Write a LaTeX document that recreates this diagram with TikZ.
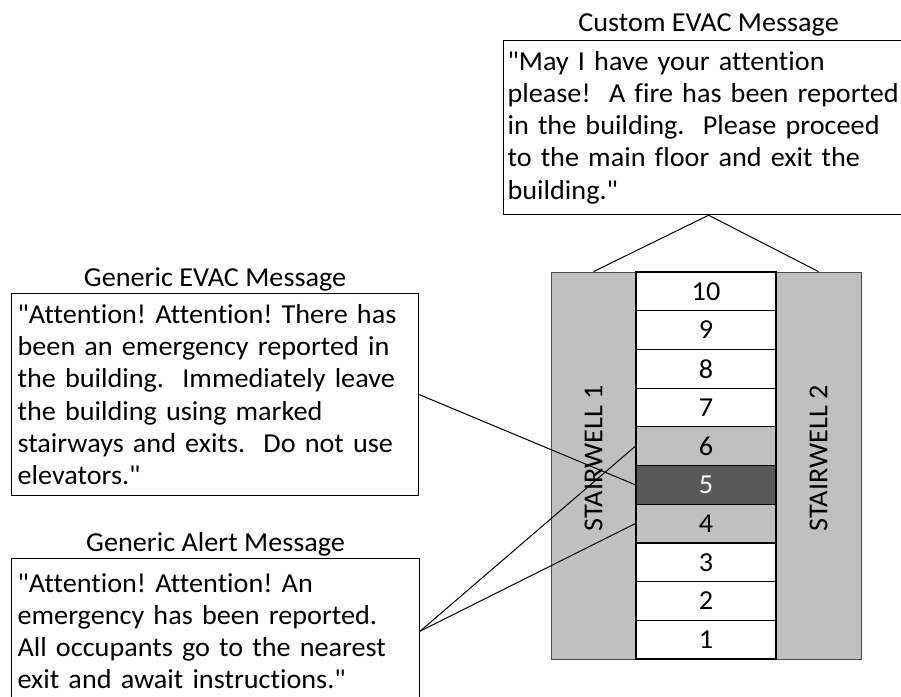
\documentclass[tikz,border=0pt]{standalone}
\usepackage{fontspec}
\setmainfont{Carlito}[FakeStretch=1.03, Ligatures={TeXOff,NoCommon}]
\usetikzlibrary{positioning}
\definecolor{wellgray}{HTML}{C0C0C0}
\definecolor{firegray}{HTML}{595959}
\tikzset{
  msgbox/.style={draw, line width=1.2pt, align=left, inner ysep=0pt, anchor=north west},
  msgtitle/.style={inner sep=0pt},
  well/.style={draw=black!70, fill=wellgray, line width=0.8pt, minimum width=85pt, minimum height=387pt},
  floor/.style={draw, line width=1.2pt, minimum width=140pt, minimum height=38.7pt, inner sep=0pt},
  link/.style={line width=1pt},
}
\begin{document}
\begin{tikzpicture}[x=1pt, y=-1pt, font=\fontsize{27.4}{32.2}\selectfont\frenchspacing]
\useasboundingbox (0,0) rectangle (901,696);

% stairwells
\node[well] (sw1) at (593.5,465.5) {};
\node[well] (sw2) at (818.5,465.5) {};
\node[rotate=90] (sw1text) at (593.5,458.5) {STAIRWELL 1};
\node[rotate=90] (sw2text) at (818.5,458.5) {STAIRWELL 2};

% floors
\foreach \i/\shade/\ink in {1/white/black, 2/white/black, 3/white/black,
    4/wellgray/black, 5/firegray/white, 6/wellgray/black,
    7/white/black, 8/white/black, 9/white/black, 10/white/black}
  \node[floor, fill=\shade, text=\ink] (f\i) at (706, {659-\i*38.7+19.35}) {\i};

% messages
\node[msgbox, inner xsep=4pt, text width=402pt, minimum height=174pt] (custom) at (503,40)
  {"May I have your attention\\
   please!\ \ A fire has been reported\\
   in the building.\ \ Please proceed\\
   to the main floor and exit the\\
   building."};
\node[msgtitle, above=4pt of custom] (customtitle) {Custom EVAC Message};

\node[msgbox, inner xsep=6pt, text width=395pt, minimum height=202pt] (evac) at (11,293)
  {"Attention! Attention! There has\\
   been an emergency reported in\\
   the building.\ \ Immediately leave\\
   the building using marked\\
   stairways and exits.\ \ Do not use\\
   elevators."};
\node[msgtitle, above=2pt of evac] (evactitle) {Generic EVAC Message};

\node[msgbox, inner xsep=6pt, text width=396pt, minimum height=145pt] (alert) at (11,558)
  {"Attention! Attention! An\\
   emergency has been reported.\\
   All occupants go to the nearest\\
   exit and await instructions."};
\node[msgtitle, above=2pt of alert] (alerttitle) {Generic Alert Message};

% connectors
\draw[link] (custom.south) -- (sw1.north);
\draw[link] (custom.south) -- (sw2.north);
\draw[link] (evac.east) -- (f5.west);
\draw[link] (alert.east) -- (f6.west);
\draw[link] (alert.east) -- (f4.west);

\end{tikzpicture}
\end{document}
